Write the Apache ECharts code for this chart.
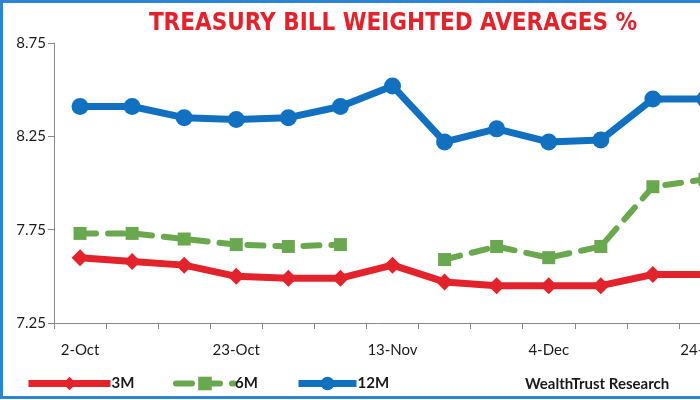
<!DOCTYPE html>
<html><head><meta charset="utf-8">
<script src="https://cdn.jsdelivr.net/npm/echarts@6/dist/echarts.min.js"></script>
<style>html,body{margin:0;padding:0;background:#fff}#c{width:700px;height:400px}</style>
</head><body><div id="c"></div>
<script>
const categories = ['2-Oct','9-Oct','16-Oct','23-Oct','30-Oct','6-Nov','13-Nov','20-Nov','27-Nov','4-Dec','11-Dec','18-Dec','24-Dec'];
const m3 = [7.60,7.58,7.56,7.50,7.49,7.49,7.56,7.47,7.45,7.45,7.45,7.51,7.51];
const m6 = [7.73,7.73,7.70,7.67,7.66,7.67,null,7.59,7.66,7.60,7.66,7.98,8.02];
const m12 = [8.41,8.41,8.35,8.34,8.35,8.41,8.52,8.22,8.29,8.22,8.23,8.45,8.45];
const yTicks = [7.25, 8.75, 0.5];

const chart = echarts.init(document.getElementById('c'));
const font = 'Lato';
const legText = {fontSize: 15, fontWeight: 'bold', color: '#1a1a1a', fontFamily: font, padding: [0,0,0,-4]};
chart.setOption({
  animation: false,
  title: [
    {text: 'TREASURY BILL WEIGHTED AVERAGES %', left: 388, top: 7, textAlign: 'center',
     textStyle: {color: '#e3232b', fontSize: 24, fontWeight: 'bold', fontFamily: 'DejaVu Sans Condensed'}},
    {text: 'WealthTrust Research', left: 520, top: 372,
     textStyle: {color: '#1a1a1a', fontSize: 15, fontWeight: 'bold', fontFamily: font}}
  ],
  graphic: [{type: 'rect', shape: {x: 1.5, y: 1.5, width: 720, height: 396}, style: {fill: 'none', stroke: '#2a86d4', lineWidth: 3}, silent: true}],
  legend: [
    {data: ['3M'], left: 20, top: 371, itemWidth: 82, itemHeight: 17, lineStyle: {width: 7}, textStyle: legText},
    {data: ['6M'], left: 168, top: 371, itemWidth: 58, itemHeight: 17, lineStyle: {width: 6}, textStyle: legText},
    {data: ['12M'], left: 290, top: 371, itemWidth: 58, itemHeight: 17, lineStyle: {width: 7}, textStyle: legText}
  ],
  grid: {left: 54, top: 43, width: 677, height: 280, containLabel: false, outerBoundsMode: 'none'},
  xAxis: {
    type: 'category', data: categories, boundaryGap: true,
    axisLine: {lineStyle: {color: '#888', width: 1}},
    axisTick: {show: true, interval: 0, length: 6, lineStyle: {color: '#888'}},
    axisLabel: {interval: 2, margin: 20, fontSize: 15, color: '#1a1a1a', fontFamily: font}
  },
  yAxis: {
    type: 'value', min: yTicks[0], max: yTicks[1], interval: yTicks[2],
    splitLine: {show: false},
    axisLine: {show: true, lineStyle: {color: '#888', width: 1}},
    axisTick: {show: true, length: 6, lineStyle: {color: '#888'}},
    axisLabel: {margin: 8, fontSize: 15, color: '#1a1a1a', fontFamily: font, formatter: v => v.toFixed(2)}
  },
  series: [
    {name: '3M', type: 'line', data: m3, symbol: 'diamond', symbolSize: 17, color: '#e3232b',
     lineStyle: {width: 7, color: '#e3232b'}, itemStyle: {color: '#e3232b'}},
    {name: '6M', type: 'line', data: m6, symbol: 'rect', symbolSize: 13, color: '#6aa84f', connectNulls: false,
     lineStyle: {width: 6, color: '#6aa84f', type: [16, 12], cap: 'round'}, itemStyle: {color: '#6aa84f'}},
    {name: '12M', type: 'line', data: m12, symbol: 'circle', symbolSize: 17, color: '#1170c0',
     lineStyle: {width: 7, color: '#1170c0'}, itemStyle: {color: '#1170c0'}}
  ]
});
</script></body></html>
